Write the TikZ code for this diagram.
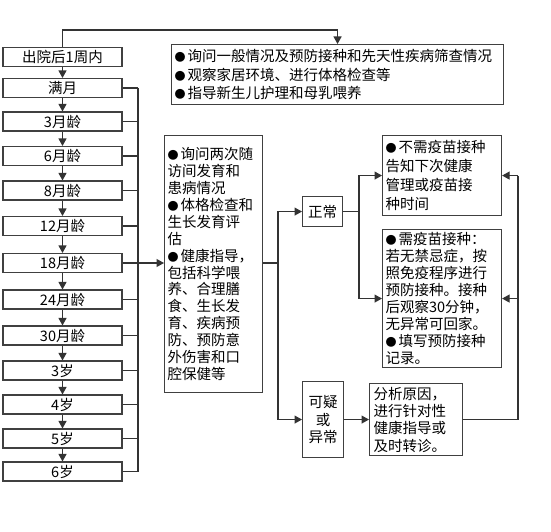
\documentclass[tikz,border=0pt]{standalone}
\usepackage{fontspec}
\setmainfont{Noto Sans CJK SC}
\usetikzlibrary{arrows.meta}
\newcommand{\fs}[1]{\fontsize{14.5}{#1}\selectfont}
\newcommand{\bul}{\makebox[13pt][l]{\fontsize{11}{11}\selectfont ●}}
\begin{document}
\begin{tikzpicture}[x=1pt,y=-1pt,
  lbox/.style={draw=black!75, line width=1.1pt, minimum width=119pt, minimum height=19pt, inner sep=0pt, font=\fs{17}},
  tbox/.style={draw=black!75, line width=1.1pt, inner xsep=3pt, inner ysep=0pt, align=left, anchor=north west},
  conn/.style={draw=black!80, line width=1.2pt},
  arr/.style={conn, -{Triangle[length=7.5pt,width=8pt]}},
]
\useasboundingbox[fill=white] (0,0) rectangle (551,532);
% left column
\node[lbox] (b0) at (62.5,57) {出院后1周内};
\node[lbox] (b1) at (62.5,88) {满月};
\node[lbox] (b2) at (62.5,121.5) {3月龄};
\node[lbox] (b3) at (62.5,156) {6月龄};
\node[lbox] (b4) at (62.5,190.5) {8月龄};
\node[lbox] (b5) at (62.5,226) {12月龄};
\node[lbox] (b6) at (62.5,263) {18月龄};
\node[lbox] (b7) at (62.5,299.5) {24月龄};
\node[lbox] (b8) at (62.5,335.5) {30月龄};
\node[lbox] (b9) at (62.5,370.5) {3岁};
\node[lbox] (b10) at (62.5,404.5) {4岁};
\node[lbox] (b11) at (62.5,438.5) {5岁};
\node[lbox] (b12) at (62.5,471.5) {6岁};
\foreach \a/\b in {b0/b1,b1/b2,b2/b3,b3/b4,b4/b5,b5/b6,b6/b7,b7/b8,b8/b9,b9/b10,b10/b11,b11/b12}
  \draw[arr] (\a.south) -- (\b.north);
% top box
\node[tbox, text width=326pt, minimum height=60pt, font=\fs{18.3}] (top) at (171,44)
  {\bul 询问一般情况及预防接种和先天性疾病筛查情况\\\bul 观察家居环境、进行体格检查等\\\bul 指导新生儿护理和母乳喂养};
% middle box
\node[tbox, text width=92pt, minimum height=257pt, font=\fs{16.9}] (mid) at (164,135)
  {\bul 询问两次随\\访间发育和\\患病情况\\\bul 体格检查和\\生长发育评\\估\\\bul 健康指导，\\包括科学喂\\养、合理膳\\食、生长发\\育、疾病预\\防、预防意\\外伤害和口\\腔保健等};
% status boxes
\node[tbox, inner xsep=0pt, align=center, text width=40pt, minimum height=30pt, font=\fs{17}] (zc) at (302,196) {正常};
\node[tbox, inner xsep=0pt, align=center, text width=41pt, minimum height=76pt, font=\fs{17.5}] (ky) at (302,381) {可疑\\或\\异常};
% right boxes
\node[tbox, text width=113pt, minimum height=80pt, font=\fs{19}] (nvac) at (382,135)
  {\bul 不需疫苗接种\\告知下次健康\\管理或疫苗接\\种时间};
\node[tbox, text width=113pt, minimum height=138pt, font=\fs{17}] (vac) at (382,229)
  {\bul 需疫苗接种：\\若无禁忌症，按\\照免疫程序进行\\预防接种。接种\\后观察30分钟，\\无异常可回家。\\\bul 填写预防接种\\记录。};
\node[tbox, inner xsep=4pt, text width=85pt, minimum height=72pt, font=\fs{17.3}] (fx) at (369,383)
  {分析原因，\\进行针对性\\健康指导或\\及时转诊。};
% junction coordinates
\coordinate (bus) at (138,0);
\coordinate (jx) at (278,0);
\coordinate (jy) at (359,0);
\coordinate (jz) at (518,0);
% top connector
\draw[arr] (b0.north) -- ++(0,-17) -| (top.north);
% bus
\foreach \n in {b1,b2,b3,b4,b5,b6,b7,b8,b9,b10,b11,b12}
  \draw[conn] (\n.east) -- (\n.east -| bus);
\draw[conn] (b1.east -| bus) -- (b12.east -| bus);
\draw[arr] (b6.east -| bus) -- (b6.east -| mid.west);
% middle to status
\draw[conn] (b6.east -| mid.east) -- (b6.east -| jx);
\draw[arr] (b6.east -| jx) |- (zc.west);
\draw[arr] (b6.east -| jx) |- (ky.west);
% normal branch
\draw[conn] (zc.east) -- (zc.east -| jy);
\draw[arr] (zc.east -| jy) |- (nvac.west);
\draw[arr] (zc.east -| jy) |- (vac.west);
% abnormal branch
\draw[arr] (ky.east) -- (ky.east -| fx.west);
\draw[conn] (fx.east) -- (fx.east -| jz) -- (nvac.east -| jz);
\draw[arr] (nvac.east -| jz) -- (nvac.east);
\draw[arr] (vac.east -| jz) -- (vac.east);
\end{tikzpicture}
\end{document}
